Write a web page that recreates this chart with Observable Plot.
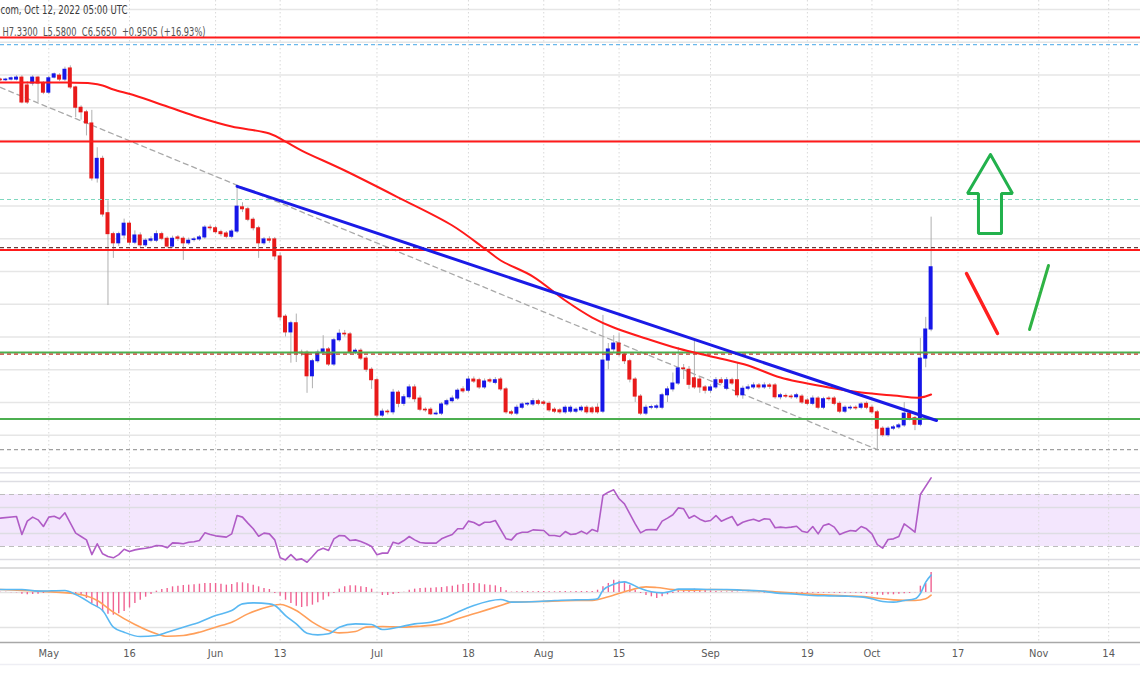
<!DOCTYPE html>
<html><head><meta charset="utf-8">
<script src="https://cdn.jsdelivr.net/npm/d3@7"></script>
<script src="https://cdn.jsdelivr.net/npm/@observablehq/plot@0.6"></script>
<style>
body{margin:0;background:#fff;}
#chart{width:1140px;position:relative;}
#chart svg{display:block;}
</style></head><body><div id="chart"></div>
<script>
// ---- data (day offsets are days from 2022-05-01) ----
const firstCandleDay = -9; // 2022-04-22
const open  = [9.43,9.42,9.43,9.43,9.46,9.34,9.37,9.46,9.37,9.23, 9.46,9.49,9.43,9.60,9.31,9.00,8.93,8.76,7.92,8.22, 7.39,7.07,6.93,7.05,7.23,6.94,7.05,6.90,6.97,6.97, 7.07,7.00,6.88,7.02,7.00,6.93,6.98,6.99,7.02,7.17, 7.16,7.10,7.08,7.03,7.11,7.48,7.45,7.29,7.16,6.93, 6.99,6.99,6.73,5.81,5.57,5.71,5.26,5.26,4.90,5.13, 5.26,5.31,5.08,5.45,5.55,5.54,5.26,5.29,5.17,5.00, 4.84,4.30,4.36,4.35,4.65,4.48,4.58,4.73,4.56,4.39, 4.39,4.32,4.33,4.47,4.52,4.56,4.70,4.68,4.85,4.84, 4.73,4.84,4.80,4.85,4.70,4.35,4.33,4.42,4.47,4.47, 4.52,4.50,4.48,4.39,4.38,4.35,4.36,4.36,4.38,4.42, 4.41,4.42,4.36,5.14,5.31,5.40,5.23,5.13,4.85,4.59, 4.33,4.42,4.42,4.42,4.61,4.70,4.79,5.02,5.00,4.87, 4.85,4.73,4.68,4.73,4.84,4.71,4.84,4.84,4.61,4.71, 4.73,4.76,4.73,4.76,4.76,4.58,4.60,4.59,4.58,4.59, 4.53,4.48,4.56,4.42,4.56,4.56,4.48,4.36,4.41,4.42, 4.42,4.48,4.42,4.35,4.10,4.00,4.10,4.12,4.15,4.33, 4.26,4.16,5.17,5.6145];
const high  = [9.45,9.45,9.47,9.49,9.49,9.40,9.49,9.48,9.40,9.48, 9.53,9.52,9.62,9.64,9.33,9.03,8.96,8.96,8.39,8.26, 7.58,7.10,7.10,7.30,7.26,7.12,7.09,7.00,7.03,7.12, 7.10,7.03,7.04,7.05,7.03,7.01,7.02,7.05,7.20,7.21, 7.19,7.13,7.11,7.14,7.80,7.55,7.48,7.32,7.19,7.02, 7.03,7.02,6.78,5.84,5.74,5.85,5.30,5.29,5.16,5.30, 5.52,5.34,5.48,5.61,5.60,5.57,5.32,5.32,5.20,5.03, 4.87,4.40,4.39,4.70,4.68,4.62,4.77,4.77,4.60,4.42, 4.42,4.37,4.50,4.55,4.60,4.71,4.74,4.90,4.89,4.87, 4.86,4.87,4.88,4.88,4.73,4.38,4.46,4.50,4.50,4.56, 4.55,4.53,4.51,4.42,4.41,4.45,4.45,4.42,4.45,4.45, 4.44,4.48,5.83,5.40,5.52,5.55,5.26,5.16,4.88,4.62, 4.46,4.46,4.47,4.64,4.74,4.95,5.34,5.08,5.05,5.45, 4.89,4.76,4.77,4.88,4.88,4.88,4.87,5.10,4.75,4.77, 4.80,4.79,4.80,4.79,4.79,4.64,4.63,4.62,4.64,4.62, 4.56,4.60,4.59,4.58,4.59,4.59,4.51,4.45,4.45,4.45, 4.50,4.51,4.45,4.38,4.13,4.13,4.15,4.18,4.50,4.38, 4.29,5.48,5.80,7.33];
const low   = [9.40,9.40,9.41,9.41,9.06,9.05,9.33,9.08,9.20,9.20, 9.44,9.40,9.40,9.28,8.85,8.81,8.57,7.88,7.85,7.33, 5.98,6.70,6.88,7.00,6.90,6.91,6.86,6.87,6.94,6.94, 6.97,6.85,6.85,6.96,6.67,6.90,6.95,6.96,6.99,7.12, 7.07,7.03,7.00,7.00,7.08,7.40,7.26,7.12,6.70,6.90, 6.93,6.67,5.75,5.50,5.10,5.11,5.20,4.64,4.71,5.10, 5.22,5.05,5.05,5.42,5.50,5.23,5.23,5.14,4.96,4.70, 4.27,4.27,4.31,4.31,4.42,4.44,4.55,4.50,4.36,4.35, 4.30,4.30,4.30,4.44,4.49,4.53,4.64,4.65,4.79,4.70, 4.70,4.79,4.77,4.67,4.32,4.30,4.30,4.39,4.44,4.44, 4.45,4.45,4.35,4.33,4.32,4.32,4.33,4.33,4.35,4.32, 4.32,4.32,4.33,5.00,5.25,5.20,5.08,4.80,4.50,4.30, 4.30,4.39,4.39,4.39,4.50,4.66,4.76,4.85,4.70,4.70, 4.64,4.63,4.64,4.70,4.77,4.68,4.76,4.57,4.55,4.68, 4.70,4.70,4.70,4.70,4.55,4.54,4.56,4.55,4.55,4.47, 4.45,4.45,4.39,4.39,4.52,4.45,4.33,4.33,4.38,4.38, 4.39,4.39,4.32,3.78,3.97,3.97,4.07,4.09,4.12,4.22, 4.07,4.13,5.03,5.58];
const close = [9.42,9.43,9.45,9.46,9.08,9.08,9.46,9.37,9.23,9.45, 9.51,9.43,9.58,9.31,9.00,8.93,8.76,7.92,8.22,7.37, 7.07,6.93,7.07,7.23,6.94,7.05,6.90,6.97,6.99,7.07, 7.00,6.88,7.00,7.00,6.93,6.97,6.99,7.02,7.17,7.16, 7.10,7.07,7.03,7.11,7.49,7.45,7.29,7.16,6.93,6.99, 6.97,6.73,5.80,5.57,5.71,5.25,5.25,4.90,5.13,5.26, 5.31,5.08,5.45,5.55,5.54,5.26,5.29,5.17,5.00,4.84, 4.30,4.36,4.35,4.65,4.48,4.58,4.73,4.55,4.39,4.38, 4.32,4.33,4.47,4.52,4.56,4.68,4.67,4.85,4.82,4.73, 4.82,4.82,4.84,4.70,4.35,4.33,4.42,4.47,4.48,4.52, 4.48,4.48,4.38,4.36,4.35,4.42,4.42,4.39,4.42,4.35, 4.35,4.35,5.14,5.31,5.40,5.23,5.13,4.85,4.59,4.33, 4.42,4.43,4.44,4.61,4.70,4.79,5.02,5.01,4.77,4.73, 4.73,4.68,4.73,4.84,4.80,4.84,4.79,4.61,4.71,4.73, 4.76,4.73,4.76,4.74,4.58,4.61,4.59,4.58,4.61,4.50, 4.48,4.56,4.42,4.55,4.55,4.48,4.36,4.42,4.42,4.41, 4.47,4.42,4.35,4.10,4.00,4.10,4.12,4.15,4.33,4.26, 4.16,5.17,5.6145,6.565];

const maDay = [-9,-3,2,8,10,12,16,22,28,34,41,44,47,55,65,75,81,84,90,96,101,105,111,117,124,130,136,145,151,157,162,164];
const maVal = [9.385,9.385,9.385,9.370,9.339,9.278,9.187,9.019,8.851,8.713,8.606,8.484,8.347,8.042,7.629,7.202,6.851,6.668,6.423,6.057,5.797,5.645,5.477,5.324,5.187,5.064,4.881,4.729,4.652,4.607,4.576,4.622];

const solidLevels = [10.072, 8.484, 6.828, 5.263, 4.248];
const solidColors = ["#ff1a1a","#ff1a1a","#ff1a1a","#4caf50","#4caf50"];
const dashedLevels = [9.965, 7.599, 6.866, 5.240, 3.782];
const dashedColors = ["#6ab8ec","#7fd8bf","#6b3a3a","#c0392b","#a0a0a0"];

const blueTrendDay = [35, 165];
const blueTrendVal = [7.80, 4.225];
const grayTrendDay = [-9, 154];
const grayTrendVal = [9.31, 3.78];

const arrowDay = [175.03,170.76,172.80,172.80,177.08,177.08,179.12,175.03];
const arrowVal = [8.286,7.691,7.691,7.080,7.080,7.691,7.691,8.286];
const redStrokeDay = [170.58,176.34], redStrokeVal = [6.469,5.553];
const greenStrokeDay = [182.29,185.82], greenStrokeVal = [5.614,6.591];

const rsiDay = [-9,-6,-5,-4,-3,-2,-1,0,1,2,3,5,6,7,8,9,10,11,12,13,14,15,16,17,18,19,20,21,22,23,24,25,26,27,28,29,30,31,33,34,35,36,37,38,39,40,41,42,43,44,45,46,47,48,49,50,51,52,53,54,55,56,57,58,59,60,61,62,63,64,65,66,67,68,69,70,72,73,74,75,76,77,78,79,80,81,82,83,85,86,87,88,89,90,92,93,94,95,96,97,98,99,100,101,102,103,104,105,106,107,108,109,110,111,112,113,114,115,116,117,118,119,120,121,122,123,124,125,126,127,128,129,130,131,132,133,134,135,136,137,138,139,140,141,142,143,144,145,146,147,148,149,150,151,152,153,154,155,156,157,158,159,160,161,162,164];
const rsiVal = [51.8,53.1,39.2,49.5,52.6,50.5,45.4,52.6,53.3,51.3,55.9,40.3,37.7,35.1,23.8,32.1,24.4,22.3,21.3,23.8,27.9,26.2,27.4,28.2,28.7,29.5,30.8,30.5,29.0,32.8,32.6,32.1,33.3,33.6,34.6,40.5,39.2,38.2,37.2,39.7,53.8,52.6,48.0,43.6,37.9,40.3,39.7,35.1,21.3,19.7,23.8,19.7,20.5,17.9,22.3,26.9,28.7,26.9,35.9,38.5,38.2,34.6,35.1,33.8,32.1,30.0,23.6,24.9,24.9,33.3,32.1,34.6,37.7,35.1,33.1,32.6,32.6,35.9,37.7,39.2,43.6,43.6,49.5,48.5,46.2,48.7,48.7,50.0,35.9,35.1,39.7,41.0,41.0,42.8,42.3,38.5,38.5,37.7,41.5,39.2,39.7,41.8,39.7,43.1,41.5,69.2,71.8,73.6,66.7,62.8,55.1,47.4,40.5,42.8,43.1,42.8,49.5,51.8,54.4,59.7,59.0,51.8,53.8,51.0,49.2,50.0,53.8,49.5,51.3,53.1,46.2,48.7,50.0,51.0,49.5,51.3,51.0,44.4,44.9,44.4,44.9,45.6,41.8,40.8,45.4,39.7,46.2,47.4,44.9,39.2,41.0,42.3,41.8,45.4,43.6,39.7,31.5,28.7,35.4,35.9,37.7,47.4,44.4,41.0,70.0,82.8];
const rsiGrid = [20, 40, 60, 80];
const rsiBounds = [30, 70];

const macdDay = [-9,-5,-2,3,5,8,10,12,14,17,20,22,25,28,31,34,36,38,41,42,44,46,48,50,52,54,57,60,62,65,68,71,74,76,79,84,86,91,94,98,101,102,103,105,107,108,110,112,114,116,117,120,123,126,129,132,135,139,142,145,148,151,153,155,157,159,161,162,163,164];
const macdVal = [0.043,0.043,0.019,0.029,-0.029,-0.162,-0.257,-0.495,-0.567,-0.629,-0.614,-0.567,-0.495,-0.424,-0.329,-0.257,-0.162,-0.148,-0.162,-0.186,-0.329,-0.448,-0.581,-0.605,-0.590,-0.495,-0.448,-0.457,-0.529,-0.495,-0.448,-0.424,-0.352,-0.281,-0.186,-0.100,-0.138,-0.129,-0.114,-0.105,-0.100,-0.090,0.033,0.119,0.152,0.129,0.057,0.010,-0.005,0.024,0.048,0.048,0.043,0.043,0.033,0.024,-0.005,-0.024,-0.043,-0.048,-0.052,-0.062,-0.090,-0.129,-0.138,-0.114,-0.090,-0.014,0.148,0.248];
const signalDay = [-9,-2,5,9,12,16,20,22,25,28,31,34,37,41,43,46,49,52,54,57,59,62,66,69,73,76,80,84,86,91,98,101,104,108,111,113,116,119,123,129,135,142,148,152,155,157,161,163,164];
const signalVal = [0.043,0.019,-0.019,-0.114,-0.281,-0.457,-0.590,-0.624,-0.614,-0.567,-0.495,-0.424,-0.305,-0.200,-0.171,-0.257,-0.424,-0.543,-0.576,-0.557,-0.495,-0.486,-0.495,-0.481,-0.448,-0.376,-0.281,-0.186,-0.138,-0.129,-0.114,-0.114,-0.062,0.033,0.081,0.071,0.043,0.033,0.043,0.033,0.010,-0.024,-0.048,-0.062,-0.090,-0.105,-0.114,-0.090,-0.038];
// histogram, one bar per candle (days -9 .. 164)
const histVal = [0.004,0.003,-0.005,-0.005,-0.024,-0.033,-0.029,-0.024,-0.014,-0.005,
 -0.005,0.002,-0.005,-0.010,-0.019,-0.048,-0.086,-0.157,-0.214,-0.276,
 -0.310,-0.324,-0.305,-0.271,-0.219,-0.157,-0.110,-0.067,-0.029,0.019,
 0.043,0.057,0.081,0.090,0.100,0.105,0.110,0.119,0.129,0.129,
 0.129,0.119,0.105,0.114,0.138,0.138,0.124,0.105,0.081,0.057,
 0.043,-0.014,-0.052,-0.110,-0.157,-0.195,-0.214,-0.205,-0.181,-0.148,
 -0.110,-0.062,-0.014,0.048,0.081,0.095,0.095,0.081,0.071,0.048,
 -0.005,-0.043,-0.043,-0.029,-0.014,0.005,0.033,0.048,0.057,0.062,
 0.062,0.067,0.071,0.081,0.090,0.105,0.114,0.129,0.129,0.124,
 0.110,0.105,0.095,0.071,0.024,0.005,0.010,0.014,0.014,0.010,
 0.014,0.014,0.010,0.010,0.014,0.014,0.010,0.014,0.014,0.014,
 0.014,0.033,0.081,0.129,0.176,0.162,0.157,0.105,0.033,-0.014,
 -0.043,-0.062,-0.086,-0.062,-0.033,-0.014,0.024,0.033,0.043,0.048,
 0.043,0.033,0.024,0.014,0.010,0.008,0.010,0.006,0.005,0.004,
 0.004,-0.005,-0.008,-0.010,-0.014,-0.014,-0.014,-0.019,-0.019,-0.014,
 -0.014,-0.010,-0.014,-0.010,-0.010,-0.010,-0.014,-0.010,-0.010,-0.010,
 -0.014,-0.019,-0.029,-0.038,-0.038,-0.033,-0.033,-0.024,-0.019,-0.014,
 -0.005,0.090,0.129,0.286];
const macdGrid = [0, -0.5];

const tickDays   = [0,15,31,43,61,78,92,106,123,141,153,169,184,197];
const tickLabels = ["May","16","Jun","13","Jul","18","Aug","15","Sep","19","Oct","17","Nov","14"];
const priceGrid = [3.5,4,4.5,5,5.5,6,6.5,7,7.5,8,8.5,9,9.5,10,10.5];
const headerLines = ["com, Oct 12, 2022 05:00 UTC", "H7.3300  L5.5800  C6.5650  +0.9505 (+16.93%)"];

// ---- helpers ----
const DAY = 86400000;
const MAY1 = Date.UTC(2022, 4, 1);
const dayToDate = d => new Date(MAY1 + d * DAY);
const xDomain = [dayToDate(-8.978), dayToDate(202.918)];
const tickDates = tickDays.map(dayToDate);
const labelOf = new Map(tickDates.map((t, i) => [+t, tickLabels[i]]));

const candles = open.map((o, i) => ({date: dayToDate(firstCandleDay + i), o, h: high[i], l: low[i], c: close[i]}));
const up = candles.filter(d => d.c >= d.o), down = candles.filter(d => d.c < d.o);
const pts = (days, vals) => days.map((d, i) => ({date: dayToDate(d), v: vals[i]}));
const ma = pts(maDay, maVal);
const rsi = pts(rsiDay, rsiVal);
const macd = pts(macdDay, macdVal);
const signal = pts(signalDay, signalVal);
const hist = histVal.map((v, i) => ({date: dayToDate(firstCandleDay + i), v}));
const solid = solidLevels.map((v, i) => ({v, c: solidColors[i]}));
const dashed = dashedLevels.map((v, i) => ({v, c: dashedColors[i]}));

const FONT = "'Liberation Sans Narrow','Arial Narrow','DejaVu Sans Condensed','Liberation Sans',sans-serif";
const vgrid = Plot.ruleX(tickDates, {stroke: "#d9d9d9", strokeDasharray: "1.5,2.5"});
const BW = 0.37 * DAY;

const main = Plot.plot({
  width: 1140, height: 472, margin: 0,
  style: {background: "#fff", fontFamily: FONT},
  x: {type: "utc", domain: xDomain, axis: null},
  y: {domain: [3.4313, 10.6374], axis: null},
  marks: [
    Plot.ruleY(priceGrid, {stroke: "#e6e6e6", strokeWidth: 1.5}),
    vgrid,
    Plot.line(pts(grayTrendDay, grayTrendVal), {x: "date", y: "v", stroke: "#a9a9a9", strokeWidth: 1.3, strokeDasharray: "5,4"}),
    Plot.ruleX(candles, {x: "date", y1: "l", y2: "h", stroke: "#b0b0b0", strokeWidth: 1}),
    Plot.rect(up, {x1: d => new Date(+d.date - BW), x2: d => new Date(+d.date + BW), y1: "o", y2: "c", fill: "#1616e8", insetTop: -0.5, insetBottom: -0.5}),
    Plot.rect(down, {x1: d => new Date(+d.date - BW), x2: d => new Date(+d.date + BW), y1: "o", y2: "c", fill: "#e81a1a", insetTop: -0.5, insetBottom: -0.5}),
    Plot.ruleY(solid, {y: "v", stroke: "c", strokeWidth: 2}),
    Plot.ruleY(dashed, {y: "v", stroke: "c", strokeWidth: 1.2, strokeDasharray: "4,3"}),
    Plot.line(ma, {x: "date", y: "v", stroke: "#ff1a1a", strokeWidth: 2, curve: "catmull-rom"}),
    Plot.line(pts(blueTrendDay, blueTrendVal), {x: "date", y: "v", stroke: "#1a1ae6", strokeWidth: 3}),
    Plot.line(pts(arrowDay, arrowVal), {x: "date", y: "v", stroke: "#22b14c", strokeWidth: 3, strokeLinejoin: "miter"}),
    Plot.line(pts(redStrokeDay, redStrokeVal), {x: "date", y: "v", stroke: "#ff1f1f", strokeWidth: 3.5, strokeLinecap: "round"}),
    Plot.line(pts(greenStrokeDay, greenStrokeVal), {x: "date", y: "v", stroke: "#2fb344", strokeWidth: 3, strokeLinecap: "round"}),
    Plot.text([headerLines[0]], {text: d => d, frameAnchor: "top-left", dx: 0, dy: 5, lineAnchor: "top", textAnchor: "start", fontSize: 12.5, fill: "#3a3a3a"}),
    Plot.text([headerLines[1]], {text: d => d, frameAnchor: "top-left", dx: 2, dy: 27, lineAnchor: "top", textAnchor: "start", fontSize: 12.5, fill: "#555"})
  ]
});

// condense the header lines to the widths they take in the reference
const headerWidths = [127, 203];
main.querySelectorAll("text").forEach(t => {
  const k = headerLines.indexOf(t.textContent);
  if (k >= 0) { t.setAttribute("textLength", headerWidths[k]); t.setAttribute("lengthAdjust", "spacingAndGlyphs"); }
});

const rsiPlot = Plot.plot({
  width: 1140, height: 95, margin: 0,
  style: {background: "#fff"},
  x: {type: "utc", domain: xDomain, axis: null},
  y: {domain: [13.85, 86.92], axis: null},
  marks: [
    Plot.rect([rsiBounds], {x1: () => xDomain[0], x2: () => xDomain[1], y1: b => b[0], y2: b => b[1], fill: "#f3e6fd"}),
    Plot.ruleY([86.92], {stroke: "#e3e3ea", strokeWidth: 2}),
    Plot.ruleY(rsiGrid, {stroke: "#dddde3", strokeWidth: 1.3}),
    vgrid,
    Plot.ruleY(rsiBounds, {stroke: "#bdbdbd", strokeWidth: 1.2, strokeDasharray: "5,4"}),
    Plot.line(rsi, {x: "date", y: "v", stroke: "#b05cc6", strokeWidth: 1.6})
  ]
});

const macdPlot = Plot.plot({
  width: 1140, height: 100, marginTop: 0, marginLeft: 0, marginRight: 0, marginBottom: 25,
  style: {background: "#fff", fontFamily: FONT},
  x: {type: "utc", domain: xDomain, axis: null},
  y: {domain: [-0.714, 0.357], axis: null},
  marks: [
    Plot.ruleY([0.357], {stroke: "#dedede", strokeWidth: 3}),
    Plot.ruleY(macdGrid, {stroke: "#e3e3e3", strokeWidth: 1.5}),
    vgrid,
    Plot.ruleX(hist, {x: "date", y1: 0, y2: "v", stroke: "#f06292", strokeWidth: 1.4}),
    Plot.line(signal, {x: "date", y: "v", stroke: "#ff9f5a", strokeWidth: 1.6, curve: "monotone-x"}),
    Plot.line(macd, {x: "date", y: "v", stroke: "#5ab8f2", strokeWidth: 1.6, curve: "monotone-x"}),
    Plot.ruleY([-0.714], {stroke: "#a8a8a8", strokeWidth: 1.5}),
    Plot.ruleY([-0.714], {stroke: "#eeeef4", strokeWidth: 1.5, dy: 22}),
    Plot.axisX(tickDates, {tickSize: 0, tickPadding: 7, fontSize: 11, fill: "#5a5a5a", tickFormat: t => labelOf.get(+t), label: null})
  ]
});

const el = document.getElementById("chart");
el.append(main, rsiPlot, macdPlot);
</script>
</body></html>
